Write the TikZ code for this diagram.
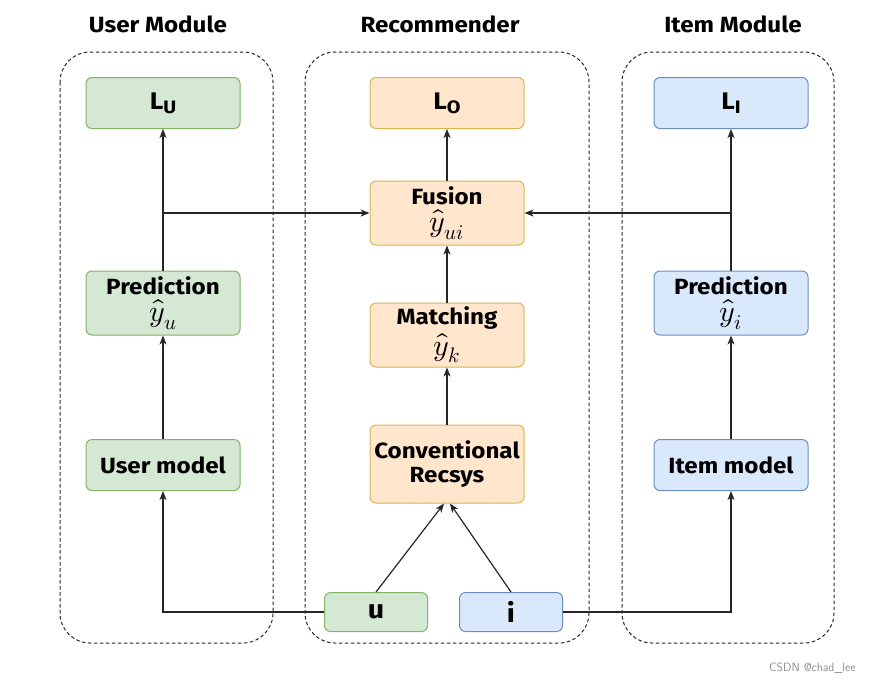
\documentclass[tikz,border=0pt]{standalone}
\usepackage{fontspec}
\usepackage{unicode-math}
\setmainfont{Fira Sans}[FakeStretch=1.1]
\setmathfont{Latin Modern Math}
\usetikzlibrary{arrows.meta}
\definecolor{gfill}{HTML}{D5E8D4}\definecolor{gdraw}{HTML}{82B366}
\definecolor{ofill}{HTML}{FFE6CC}\definecolor{odraw}{HTML}{D6B656}
\definecolor{bfill}{HTML}{DAE8FC}\definecolor{bdraw}{HTML}{6C8EBF}
\newcommand{\bigmath}[1]{{\fontsize{30}{30}\selectfont$#1$}}
\newcommand{\lsub}[2]{#1\raisebox{-0.3ex}{\fontsize{18}{20}\selectfont #2}}
\begin{document}
\begin{tikzpicture}[x=1pt,y=-1pt,
  box/.style={rounded corners=6pt,line width=1pt,minimum width=154pt,inner sep=0pt,align=center,font=\fontsize{22}{24}\selectfont\bfseries},
  gbox/.style={box,fill=gfill,draw=gdraw},
  obox/.style={box,fill=ofill,draw=odraw},
  bbox/.style={box,fill=bfill,draw=bdraw},
  cont/.style={draw=black!85,dash pattern=on 3.5pt off 2.5pt,line width=1pt,rounded corners=30pt},
  title/.style={font=\fontsize{22}{24}\selectfont\bfseries},
  arr/.style={draw=black!85,line width=1.2pt,-{Stealth[length=9pt,width=7pt,inset=2.5pt]}}]
\useasboundingbox (0,0) rectangle (874,686);
% containers
\draw[cont] (60,52) rectangle (273,643);
\draw[cont] (305,52) rectangle (589,643);
\draw[cont] (622,52) rectangle (834,643);
% titles
\node[title] (t1) at (158,24) {User Module};
\node[title] (t2) at (440,24) {Recommender};
\node[title] (t3) at (733,24) {Item Module};
% user module
\node[gbox,minimum height=51pt,font=\fontsize{24}{26}\selectfont\bfseries] (LU) at (163,103) {\lsub{L}{U}};
\node[gbox,minimum height=64pt] (PU) at (163,303) {Prediction\\[3pt]\bigmath{\hat{y}_u}};
\node[gbox,minimum height=51pt] (UM) at (163,465) {User model};
% recommender
\node[obox,minimum height=51pt,font=\fontsize{24}{26}\selectfont\bfseries] (LO) at (447,103) {\lsub{L}{O}};
\node[obox,minimum height=64pt] (FU) at (447,213) {Fusion\\[3pt]\bigmath{\hat{y}_{ui}}};
\node[obox,minimum height=64pt] (MA) at (447,335) {Matching\\[3pt]\bigmath{\hat{y}_k}};
\node[obox,minimum height=78pt] (CR) at (447,464) {Conventional\\Recsys};
\node[gbox,minimum width=103pt,minimum height=39pt,font=\fontsize{26}{28}\selectfont\bfseries] (U) at (376,612) {u};
\node[bbox,minimum width=103pt,minimum height=39pt,font=\fontsize{26}{28}\selectfont\bfseries] (I) at (511,612) {i};
% item module
\node[bbox,minimum height=51pt,font=\fontsize{24}{26}\selectfont\bfseries] (LI) at (731,103) {\lsub{L}{I}};
\node[bbox,minimum height=64pt] (PI) at (731,303) {Prediction\\[3pt]\bigmath{\hat{y}_i}};
\node[bbox,minimum height=51pt] (IM) at (731,465) {Item model};
% connectors
\draw[arr] (UM) -- (PU);
\draw[arr] (PU) -- (LU);
\draw[arr] (PU.north) |- (FU.west);
\draw[arr] (IM) -- (PI);
\draw[arr] (PI) -- (LI);
\draw[arr] (PI.north) |- (FU.east);
\draw[arr] (CR) -- (MA);
\draw[arr] (MA) -- (FU);
\draw[arr] (FU) -- (LO);
\draw[arr] (U.north) -- ([xshift=-3pt]CR.south);
\draw[arr] (I.north) -- ([xshift=3pt]CR.south);
\draw[arr] (U.west) -| (UM.south);
\draw[arr] (I.east) -| (IM.south);
% watermark
\node[font=\fontsize{12}{14}\selectfont\sffamily,text=black!45,anchor=east] (wm) at (859,668) {CSDN @chad\_lee};
\end{tikzpicture}
\end{document}
